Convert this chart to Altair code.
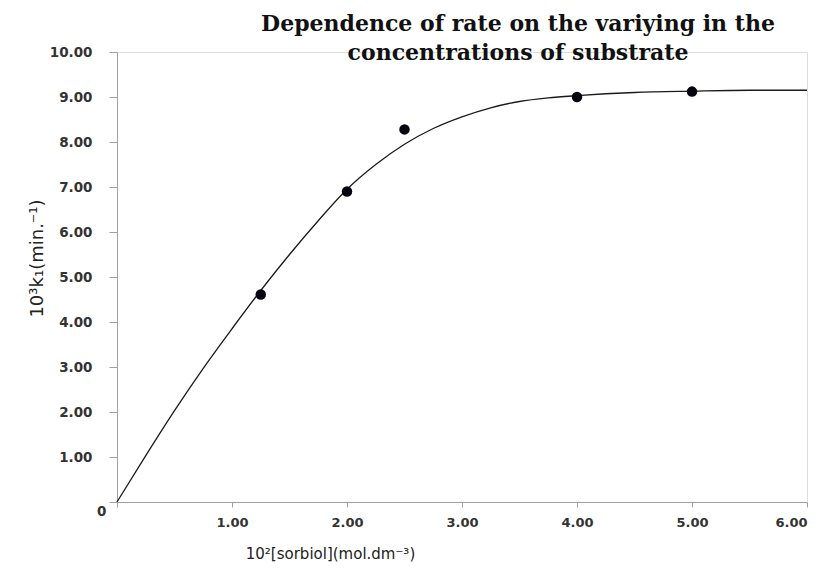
import altair as alt
import pandas as pd

# Measured points
conc = [1.25, 2.0, 2.5, 4.0, 5.0]
rate = [4.61, 6.90, 8.28, 9.00, 9.12]

# Fitted curve
curve_x = [0, 0.25, 0.5, 0.75, 1.0, 1.25, 1.5, 1.75, 2.0, 2.25, 2.5, 2.75, 3.0,
           3.25, 3.5, 3.75, 4.0, 4.5, 5.0, 5.5, 6.0]
curve_y = [0, 1.03, 2.03, 2.97, 3.85, 4.70, 5.50, 6.25, 6.95, 7.50, 7.95, 8.30, 8.56,
           8.76, 8.90, 8.98, 9.03, 9.10, 9.13, 9.15, 9.15]

x_ticks = [0, 1, 2, 3, 4, 5, 6]
y_ticks = [0, 1, 2, 3, 4, 5, 6, 7, 8, 9, 10]

title_lines = ["Dependence of rate on the variying in the", "concentrations of substrate"]
x_title = "10²[sorbiol](mol.dm⁻³)"
y_title = "10³k₁(min.⁻¹)"

pts = pd.DataFrame({"x": conc, "y": rate})
crv = pd.DataFrame({"x": curve_x, "y": curve_y})

xscale = alt.Scale(domain=[0, 6], nice=False, zero=False)
yscale = alt.Scale(domain=[0, 10], nice=False, zero=False)

label_font = "DejaVu Sans"

xaxis = alt.Axis(
    values=x_ticks,
    labelExpr="datum.value == 0 ? '' : format(datum.value, '.2f')",
    labelFont=label_font, labelFontWeight="bold", labelFontSize=13, labelColor="#333333",
    labelPadding=9,
    domainColor="#a0a0a0", tickColor="#a0a0a0", tickSize=5, grid=False,
    title=x_title, titleFont=label_font, titleFontWeight="normal", titleFontSize=15,
    titleColor="#222222", titleX=213, titleY=51, titleAlign="center", titleBaseline="middle",
)
yaxis = alt.Axis(
    values=y_ticks,
    labelExpr="datum.value == 0 ? '0' : format(datum.value, '.2f')",
    labelFont=label_font, labelFontWeight="bold", labelFontSize=13.5, labelColor="#333333",
    labelPadding={"condition": {"test": "datum.value == 0", "value": 3}, "value": 17},
    labelOffset={"condition": {"test": "datum.value == 0", "value": 9}, "value": 0},
    domainColor="#a0a0a0", tickColor="#a0a0a0", tickSize=8, grid=False,
    title=y_title, titleFont=label_font, titleFontWeight="normal", titleFontSize=18,
    titleColor="#222222", titleX=-80, titleY=206, titleAngle=-90,
    titleAlign="center", titleBaseline="middle",
)

line = alt.Chart(crv).mark_line(color="#1a1a1a", strokeWidth=1.3, interpolate="monotone").encode(
    x=alt.X("x:Q", scale=xscale, axis=xaxis),
    y=alt.Y("y:Q", scale=yscale, axis=yaxis),
)
dots = alt.Chart(pts).mark_point(filled=True, color="#05050f", size=110, opacity=1).encode(
    x=alt.X("x:Q", scale=xscale),
    y=alt.Y("y:Q", scale=yscale),
)

chart = (line + dots).properties(
    width=690, height=450,
    padding={"left": 109, "top": 44, "right": 10, "bottom": 60},
    autosize=alt.AutoSizeParams(type="none"),
    title=alt.TitleParams(
        text=title_lines, font="DejaVu Serif", fontSize=22, fontWeight="bold",
        color="#111111", anchor="middle", frame="group", dx=56, offset=0,
        baseline="bottom", lineHeight=29, dy=42,
    ),
).configure_view(stroke=None).configure(background="white")

chart.save("out.html", embed_options={"renderer": "svg", "actions": False})
